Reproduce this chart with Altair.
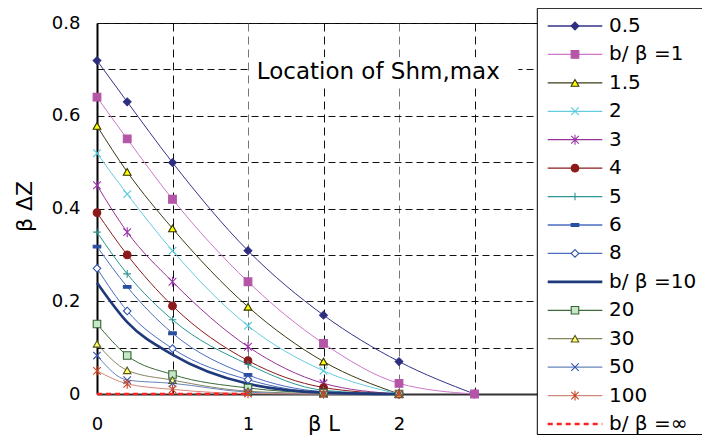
import altair as alt
import pandas as pd

# ---- data ----
x_pos = [0, 0.2, 0.5, 1, 1.5, 2, 2.5]
names = ["0.5", "b/ β =1", "1.5", "2", "3", "4", "5", "6", "8",
         "b/ β =10", "20", "30", "50", "100", "b/ β =∞"]
v_05 = [0.719, 0.630, 0.499, 0.309, 0.170, 0.070, 0.0]
v_1 = [0.640, 0.550, 0.420, 0.242, 0.109, 0.023, 0.0]
v_15 = [0.578, 0.479, 0.357, 0.188, 0.070, 0.0]
v_2 = [0.519, 0.431, 0.309, 0.147, 0.050, 0.0]
v_3 = [0.450, 0.349, 0.242, 0.102, 0.023, 0.0]
v_4 = [0.391, 0.300, 0.190, 0.072, 0.014, 0.0]
v_5 = [0.349, 0.259, 0.160, 0.064, 0.008, 0.0]
v_6 = [0.318, 0.231, 0.131, 0.041, 0.005, 0.0]
v_8 = [0.271, 0.179, 0.098, 0.031, 0.003, 0.0]
v_10 = [0.240, 0.155, 0.085, 0.022, 0.003, 0.0]
v_20 = [0.151, 0.083, 0.042, 0.013, 0.002, 0.0]
v_30 = [0.108, 0.051, 0.030, 0.006, 0.001, 0.0]
v_50 = [0.083, 0.030, 0.023, 0.004, 0.0, 0.0]
v_100 = [0.050, 0.022, 0.010, 0.001, 0.0, 0.0]
v_inf = [0.0, 0.0, 0.0, 0.0]
series_values = [v_05, v_1, v_15, v_2, v_3, v_4, v_5, v_6, v_8,
                 v_10, v_20, v_30, v_50, v_100, v_inf]
THICK = "b/ β =10"
INF = "b/ β =∞"
no_marker = [THICK, INF]
annotation = "Location of Shm,max"

# ---- styles ----
FONT = "DejaVu Sans"
line_colors = ["#333388", "#CC77CC", "#3A3A14", "#66CCE0", "#993399", "#8B1A1A",
               "#2E9595", "#4A6CC0", "#4A6CC0", "#1F3A7A", "#3A6B3A", "#858562",
               "#6685BB", "#D08A7A", "#FF2020"]
X_PATH = "M-1,-1L1,1M-1,1L1,-1"
AST_PATH = "M-1,-1L1,1M-1,1L1,-1M0,-1.3L0,1.3"
PLUS_PATH = "M-1,0L1,0M0,-1L0,1"
DASH_PATH = "M-1,-0.35L1,-0.35L1,0.35L-1,0.35Z"
marker_shapes = ["diamond", "square", "triangle-up", X_PATH, AST_PATH, "circle",
                 PLUS_PATH, DASH_PATH, "diamond", "circle", "square",
                 "triangle-up", X_PATH, AST_PATH, "circle"]
marker_fills = ["#2E2E80", "#B455A8", "#FFFF00", "transparent", "transparent",
                "#8B1A1A", "transparent", "#2A4FA0", "white", "transparent",
                "#C8E6C8", "#FFFF66", "transparent", "transparent", "transparent"]
marker_strokes = ["#2E2E80", "#B455A8", "#333300", "#55CCE0", "#9933AA",
                  "#8B1A1A", "#2E9090", "#2A4FA0", "#3355AA", "#1F3C80",
                  "#336633", "#555522", "#3355AA", "#CC4422", "#FF2020"]
marker_sizes = [60, 55, 60, 45, 55, 50, 45, 40, 50, 40, 50, 60, 45, 55, 40]

rows = []
for name, vals in zip(names, series_values):
    for x, v in zip(x_pos, vals):
        rows.append({"series": name, "bL": x, "bdz": v})
df = pd.DataFrame(rows)
df_lines = df[~df["series"].isin(no_marker)]
df_thick = df[df["series"] == THICK]
df_inf = df[df["series"] == INF]
df_pts = df[~df["series"].isin(no_marker)]

color_scale = alt.Scale(domain=names, range=line_colors)
shape_scale = alt.Scale(domain=names, range=marker_shapes)
fill_scale = alt.Scale(domain=names, range=marker_fills)
stroke_scale = alt.Scale(domain=names, range=marker_strokes)
size_scale = alt.Scale(domain=names, range=marker_sizes)

x_grid_vals = [0, 0.5, 1, 1.5, 2, 2.5, 3]
y_grid_vals = [round(i * 0.05, 2) for i in range(17)]

x_enc = alt.X(
    "bL:Q",
    scale=alt.Scale(domain=[0, 3], nice=False, zero=False),
    axis=alt.Axis(
        values=x_grid_vals,
        labelExpr="(datum.value % 1 == 0 && datum.value < 3) ? format(datum.value, 'd') : ''",
        grid=True,
        gridColor={"condition": {"test": "datum.value % 1 != 0", "value": "#111111"},
                   "value": "#777777"},
        gridDash=[8, 5], gridWidth=1,
        ticks=False, tickSize=0,
        domainColor="#333333", domainWidth=2,
        labelFont=FONT, labelFontSize=18, labelColor="black",
        labelPadding=30, labelBaseline="middle", labelFlush=False, labelOverlap=False,
        title="β L", titleFont=FONT, titleFontSize=21, titleFontWeight="normal",
        titleColor="black", titleX=226.5, titleY=30, titleAlign="center",
        titleBaseline="middle", titleAngle=0,
    ),
)
y_enc = alt.Y(
    "bdz:Q",
    scale=alt.Scale(domain=[0, 0.8], nice=False),
    axis=alt.Axis(
        values=y_grid_vals,
        labelExpr="(round(datum.value * 100) % 20 == 0) ? (datum.value == 0 ? '0' : format(datum.value, '.1f')) : ''",
        grid=True,
        gridColor={"condition": {"test": "round(datum.value * 100) % 10 == 0", "value": "#111111"},
                   "value": "#777777"},
        gridDash=[7, 4], gridWidth=1,
        ticks=False, tickSize=0,
        domainColor="black", domainWidth=2,
        labelFont=FONT, labelFontSize=18, labelColor="black",
        labelPadding=17, labelFlush=False, labelOverlap=False,
        title="β ΔZ", titleFont=FONT, titleFontSize=22, titleFontWeight="normal",
        titleColor="black", titleX=-73, titleY=183, titleAngle=-90,
        titleAlign="center", titleBaseline="middle",
    ),
)

color_enc = alt.Color("series:N", scale=color_scale, legend=None)

lines = alt.Chart(df_lines).mark_line(interpolate="monotone", strokeWidth=1).encode(
    x=x_enc, y=y_enc, color=color_enc)
thick_line = alt.Chart(df_thick).mark_line(interpolate="monotone", strokeWidth=2.6).encode(
    x="bL:Q", y="bdz:Q", color=color_enc)
inf_line = alt.Chart(df_inf).mark_line(strokeDash=[5, 4], strokeWidth=2.4).encode(
    x="bL:Q", y="bdz:Q", color=color_enc)
points = alt.Chart(df_pts).mark_point(opacity=1, strokeWidth=1.1).encode(
    x="bL:Q", y="bdz:Q",
    shape=alt.Shape("series:N", scale=shape_scale, legend=None),
    fill=alt.Fill("series:N", scale=fill_scale, legend=None),
    stroke=alt.Stroke("series:N", scale=stroke_scale, legend=None),
    size=alt.Size("series:N", scale=size_scale, legend=None),
)

anno_box_df = pd.DataFrame({"x0": [1.02], "x1": [2.79], "y0": [0.666], "y1": [0.726]})
anno_box = alt.Chart(anno_box_df).mark_rect(fill="white").encode(
    x="x0:Q", x2="x1:Q", y="y0:Q", y2="y1:Q")
anno_df = pd.DataFrame({"bL": [1.058], "bdz": [0.695], "label": [annotation]})
anno = alt.Chart(anno_df).mark_text(align="left", baseline="middle", font=FONT,
                                    fontSize=23, color="black").encode(
    x="bL:Q", y="bdz:Q", text="label:N")

data_layer = alt.layer(anno_box, lines, thick_line, points, inf_line, anno)

# ---- legend (drawn by hand to show line + marker samples) ----
leg_df = pd.DataFrame({"series": names})
leg_plain = leg_df[~leg_df["series"].isin(no_marker)]
leg_thick = leg_df[leg_df["series"] == THICK]
leg_inf = leg_df[leg_df["series"] == INF]
ly = alt.Y("series:N", scale=alt.Scale(type="point", domain=names, range=[3, 401], padding=0),
           axis=None)
leg_box = alt.Chart(pd.DataFrame({"k": [0]})).mark_rect(
    fill="white", stroke="black", strokeWidth=1).encode(
    x=alt.value(440.3), x2=alt.value(620), y=alt.value(-14.7), y2=alt.value(411.5))
leg_rule = alt.Chart(leg_plain).mark_rule(strokeWidth=1.3).encode(
    x=alt.value(450.7), x2=alt.value(505.3), y=ly, color=color_enc)
leg_rule_thick = alt.Chart(leg_thick).mark_rule(strokeWidth=2.6).encode(
    x=alt.value(450.7), x2=alt.value(505.3), y=ly, color=color_enc)
leg_rule_inf = alt.Chart(leg_inf).mark_rule(strokeWidth=2.4, strokeDash=[5, 4]).encode(
    x=alt.value(450.7), x2=alt.value(505.3), y=ly, color=color_enc)
leg_pts = alt.Chart(leg_plain).mark_point(opacity=1, strokeWidth=1.1).encode(
    x=alt.value(478), y=ly,
    shape=alt.Shape("series:N", scale=shape_scale, legend=None),
    fill=alt.Fill("series:N", scale=fill_scale, legend=None),
    stroke=alt.Stroke("series:N", scale=stroke_scale, legend=None),
    size=alt.Size("series:N", scale=size_scale, legend=None),
)
leg_text = alt.Chart(leg_df).mark_text(align="left", baseline="middle", font=FONT,
                                       fontSize=20, color="black").encode(
    x=alt.value(512), y=ly, text="series:N")
legend_layer = alt.layer(leg_box, leg_rule, leg_rule_thick, leg_rule_inf, leg_pts, leg_text)

chart = alt.layer(data_layer, legend_layer).resolve_scale(y="independent").properties(
    width=453, height=371,
    padding={"left": 89, "top": 15, "right": 152, "bottom": 41},
    autosize=alt.AutoSizeParams(type="none"),
    background="white",
).configure_view(stroke="black", strokeWidth=1)

chart.save("out.html", embed_options={"renderer": "svg", "actions": False})
